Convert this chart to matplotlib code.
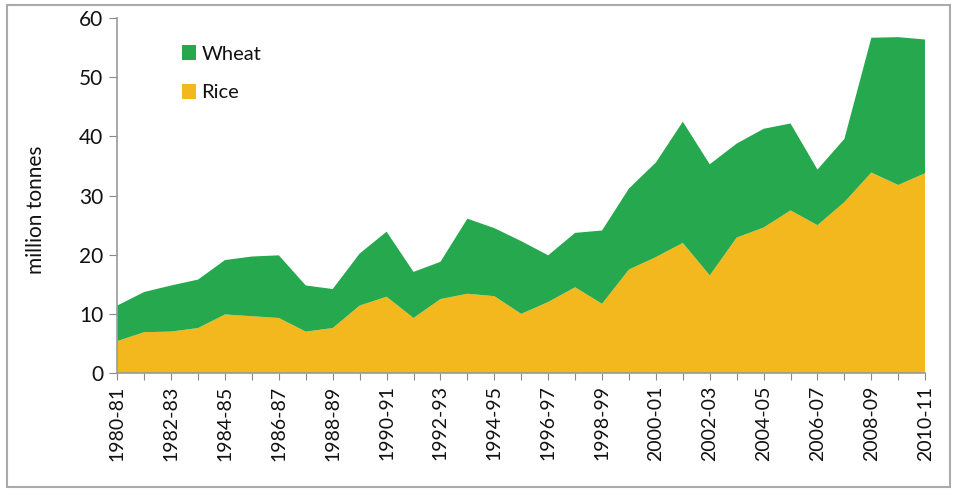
import matplotlib.pyplot as plt
from matplotlib.patches import Rectangle

plt.rcParams['font.family'] = ['Lato', 'DejaVu Sans']

# crop seasons (x axis)
seasons = ['1980-81', '1981-82', '1982-83', '1983-84', '1984-85', '1985-86',
           '1986-87', '1987-88', '1988-89', '1989-90', '1990-91', '1991-92',
           '1992-93', '1993-94', '1994-95', '1995-96', '1996-97', '1997-98',
           '1998-99', '1999-00', '2000-01', '2001-02', '2002-03', '2003-04',
           '2004-05', '2005-06', '2006-07', '2007-08', '2008-09', '2009-10',
           '2010-11']

# million tonnes
rice = [5.4, 6.9, 7.0, 7.6, 9.9, 9.6, 9.3, 7.0, 7.6, 11.4, 12.9, 9.3, 12.5,
        13.4, 13.0, 10.0, 12.0, 14.5, 11.7, 17.5, 19.6, 22.0, 16.5, 22.9,
        24.6, 27.5, 25.0, 28.9, 33.9, 31.8, 33.8]
wheat = [6.0, 6.8, 7.8, 8.2, 9.2, 10.1, 10.6, 7.8, 6.6, 8.8, 11.0, 7.8, 6.3,
         12.7, 11.5, 12.3, 7.9, 9.2, 12.4, 13.7, 16.0, 20.5, 18.8, 15.9, 16.7,
         14.7, 9.4, 10.7, 22.8, 25.0, 22.6]

rice_color = '#F4B81F'
wheat_color = '#25A84E'
text_color = '#111111'

fig = plt.figure(figsize=(9.55, 4.9), dpi=100)
ax = fig.add_axes([0.1228, 0.2388, 0.846, 0.724])

x = list(range(len(seasons)))
ax.stackplot(x, rice, wheat, colors=[rice_color, wheat_color],
             labels=['Rice', 'Wheat'], linewidth=0)

ax.set_xlim(0, len(seasons) - 1)
ax.set_ylim(0, 60)
ax.set_yticks(range(0, 61, 10))
ax.set_xticks(x)
ax.set_xticklabels([s if i % 2 == 0 else '' for i, s in enumerate(seasons)],
                   rotation=90)
ax.tick_params(axis='y', labelsize=15, color='#888888', labelcolor=text_color,
               length=6, pad=4)
ax.tick_params(axis='x', labelsize=14, color='#888888', labelcolor=text_color,
               length=5, pad=4)
ax.set_ylabel('million tonnes', fontsize=15, color=text_color)
ax.yaxis.set_label_coords(-0.088, 0.46)

for side in ['top', 'right']:
    ax.spines[side].set_visible(False)
for side in ['left', 'bottom']:
    ax.spines[side].set_color('#999999')
    ax.spines[side].set_linewidth(1.2)

# legend: wheat above rice
handles, labels = ax.get_legend_handles_labels()
ax.legend(handles[::-1], labels[::-1], loc='upper left',
          bbox_to_anchor=(0.058, 0.975), frameon=False, fontsize=14.5,
          handlelength=0.7, handleheight=0.75, handletextpad=0.25,
          labelspacing=1.05, labelcolor=text_color)

# outer frame of the picture
fig.patches.append(Rectangle((7 / 955, 3 / 490), 943 / 955, 482 / 490,
                             transform=fig.transFigure, fill=False,
                             edgecolor='#AAAAAA', linewidth=1.5))

fig.savefig('out.png', dpi=100)
